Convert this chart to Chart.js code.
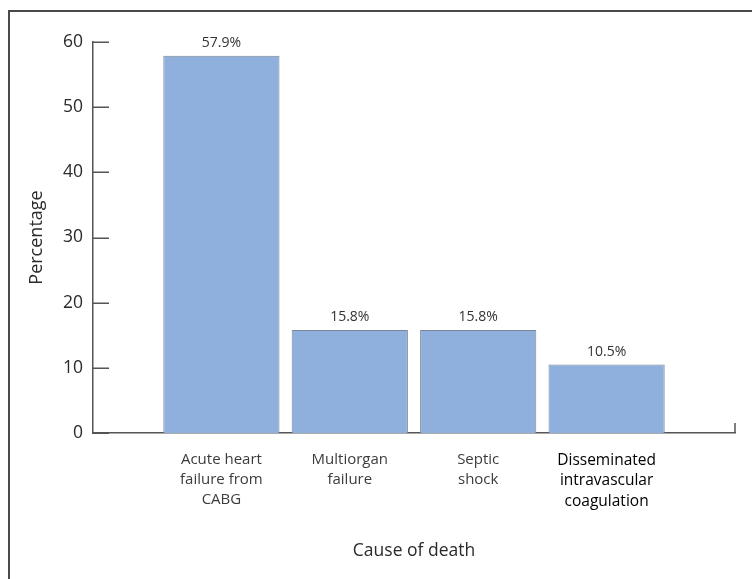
<!DOCTYPE html>
<html>
<head>
<meta charset="utf-8">
<script src="https://cdn.jsdelivr.net/npm/chart.js@4"></script>
<style>
  html, body { margin: 0; padding: 0; background: #fff; width: 752px; height: 579px; overflow: hidden; }
  #frame { position: absolute; left: 8px; top: 10px; width: 800px; height: 640px; border: 2px solid #4a4a4a; box-sizing: border-box; }
  #wrap { position: absolute; left: 0; top: 0; width: 752px; height: 579px; }
</style>
</head>
<body>
<div id="frame"></div>
<div id="wrap"><canvas id="c" width="752" height="579"></canvas></div>
<script>
// Causes of death, with empty slots at both ends of the axis
const categories = [
  '',
  ['Acute heart', 'failure from', 'CABG'],
  ['Multiorgan', 'failure'],
  ['Septic', 'shock'],
  ['Disseminated', 'intravascular', 'coagulation'],
  ''
];
const percentages = [null, 57.9, 15.8, 15.8, 10.5, null];
const yTicks = [0, 10, 20, 30, 40, 50, 60];

const FONT = '"Open Sans", "DejaVu Sans", sans-serif';
const AXIS = '#555555';
const TEXT = '#2a2a2a';
const LABEL = '#3c3c3c';

// Inward tick marks on the y axis and the end tick on the x axis
const axisTicks = {
  id: 'axisTicks',
  afterDraw(chart) {
    const { ctx, scales: { x, y } } = chart;
    ctx.save();
    ctx.strokeStyle = AXIS;
    ctx.lineWidth = 1.5;
    ctx.beginPath();
    yTicks.forEach(v => {
      const py = Math.round(y.getPixelForValue(v)) + 0.25;
      ctx.moveTo(x.left, py);
      ctx.lineTo(x.left + 16, py);
    });
    const ex = x.getPixelForValue(categories.length - 1);
    const by = y.getPixelForValue(0);
    ctx.moveTo(ex, by);
    ctx.lineTo(ex, by - 10);
    ctx.stroke();
    ctx.restore();
  }
};

// Percentage labels above each bar
const valueLabels = {
  id: 'valueLabels',
  afterDatasetsDraw(chart) {
    const { ctx } = chart;
    const meta = chart.getDatasetMeta(0);
    ctx.save();
    ctx.font = '14px ' + FONT;
    ctx.fillStyle = '#333333';
    ctx.textAlign = 'center';
    ctx.textBaseline = 'middle';
    meta.data.forEach((bar, i) => {
      const v = percentages[i];
      if (v == null) return;
      ctx.fillText(v.toFixed(1) + '%', bar.x, bar.y - 13);
    });
    ctx.restore();
  }
};

new Chart(document.getElementById('c'), {
  type: 'bar',
  data: {
    labels: categories,
    datasets: [{
      data: percentages,
      backgroundColor: '#8fb0dc',
      borderColor: '#7a8598',
      borderWidth: 1,
      categoryPercentage: 1,
      barPercentage: 0.905
    }]
  },
  options: {
    responsive: false,
    animation: false,
    events: [],
    layout: { padding: { left: 0, top: 42, right: 17, bottom: 0 } },
    plugins: { legend: { display: false }, tooltip: { enabled: false } },
    scales: {
      x: {
        offset: false,
        grid: { display: false, drawTicks: false },
        border: { display: true, color: AXIS, width: 1.5 },
        ticks: {
          autoSkip: false,
          maxRotation: 0,
          padding: 17,
          color: ctx => ctx.index === 4 ? '#000000' : LABEL,
          font: ctx => ({ family: FONT, size: ctx.index === 4 ? 15.5 : 15, lineHeight: 1.33 })
        },
        title: {
          display: true,
          text: 'Cause of death',
          color: TEXT,
          font: { family: FONT, size: 17.5 },
          padding: { top: 0, bottom: 17 }
        },
        afterFit(scale) { scale.height = 146; }
      },
      y: {
        min: 0,
        max: 60,
        grid: { display: false, drawTicks: false },
        border: { display: true, color: AXIS, width: 1.5 },
        ticks: {
          stepSize: 10,
          padding: 10,
          color: TEXT,
          font: { family: FONT, size: 17.5 }
        },
        title: {
          display: true,
          text: 'Percentage',
          color: TEXT,
          font: { family: FONT, size: 18 },
          padding: { top: 26, bottom: 0 }
        },
        afterFit(scale) { scale.width = 93; }
      }
    }
  },
  plugins: [axisTicks, valueLabels]
});
</script>
</body>
</html>
